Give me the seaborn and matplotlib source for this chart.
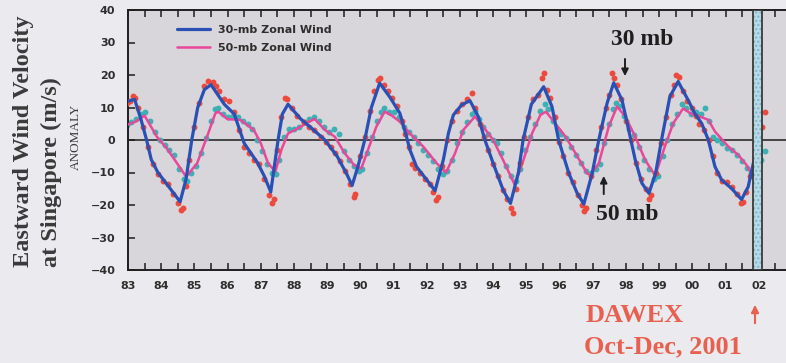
import matplotlib
matplotlib.use("Agg")
import matplotlib.pyplot as plt
import matplotlib.ticker as mticker
import pandas as pd
import seaborn as sns

# smoothed 30-mb zonal wind (year since 1900, m/s)
blue_t = [82.95, 83.2, 83.4, 83.56, 83.7, 83.9, 84.2, 84.57, 84.75, 84.92, 85.1, 85.3, 85.5,
          85.9, 86.2, 86.5, 86.9, 87.1, 87.3, 87.52, 87.65, 87.82, 88.2, 88.6, 88.93, 89.3,
          89.58, 89.75, 89.93, 90.13, 90.33, 90.58, 90.9, 91.19, 91.39, 91.49, 91.69, 92.0,
          92.25, 92.5, 92.65, 92.8, 93.05, 93.3, 93.55, 93.75, 94.0, 94.3, 94.52, 94.76, 94.9,
          95.15, 95.52, 95.77, 95.97, 96.28, 96.53, 96.73, 96.98, 97.18, 97.43, 97.63, 97.88,
          98.08, 98.28, 98.48, 98.69, 98.89, 99.07, 99.32, 99.57, 99.87, 100.07, 100.28,
          100.48, 100.68, 100.88, 101.18, 101.48, 101.68, 101.88, 102.06]
blue_v = [11.8, 12.5, 6, 0, -6, -10, -14, -19, -12, 0, 10, 15.5, 17,
          11, 8, -1, -7, -11, -16, 0, 8, 11, 6.5, 3, 0, -5,
          -10.3, -14, -8, 0, 10, 17.5, 13, 8.2, 1, -3, -8.2, -12.3,
          -15.6, -6, 2, 7.7, 10.8, 12.1, 7.2, 0, -7.2, -15.4, -19.5, -10, 0,
          11, 16.4, 10.3, 0, -10.3, -16.4, -19.7, -10.3, 0, 11.3, 17.6, 12.3,
          3.1, -6.2, -13.3, -16.4, -10.3, 0, 13.3, 18, 12.3, 8.2, 5.1,
          0, -8.2, -12.3, -14.9, -18.3, -14.4, -5.1, 2]

# smoothed 50-mb zonal wind
pink_t = [82.95, 83.2, 83.5, 83.87, 84.17, 84.48, 84.75, 85.08, 85.38, 85.63, 85.72, 86.0,
          86.38, 86.79, 87.0, 87.22, 87.44, 87.62, 87.82, 88.12, 88.37, 88.62, 88.93, 89.23,
          89.53, 89.83, 90.03, 90.23, 90.48, 90.73, 90.95, 91.19, 91.49, 91.89, 92.3, 92.58,
          92.85, 93.1, 93.45, 93.7, 94.0, 94.3, 94.65, 94.9, 95.17, 95.42, 95.59, 95.87,
          96.18, 96.48, 96.83, 96.93, 97.18, 97.48, 97.73, 97.98, 98.28, 98.58, 98.88, 99.17,
          99.42, 99.72, 100.02, 100.28, 100.48, 100.68, 101.08, 101.38, 101.63, 101.83, 101.93]
pink_v = [4.6, 5.5, 7.5, 1, -2.6, -7.2, -11.3, -7.2, 1, 8.2, 8.7, 6.4,
          6.2, 3.1, -1, -7.2, -9.7, -3, 2, 3.6, 5.1, 6.5, 3.1, 1,
          -4.1, -8, -8.7, -3, 4.1, 8.7, 7.5, 5.6, 2, -2, -7.2, -10,
          -4.1, 3.1, 7.2, 4.1, 0, -6.2, -13.8, -6.5, 2, 7.7, 8.7, 5.1,
          1, -4.1, -10.3, -10.8, -7.2, 4.1, 10.3, 7.2, 1, -6.2, -11, -2,
          5.1, 9.7, 7.7, 7, 6.2, 2.6, -2, -4.6, -7.7, -11.3, -9.5]

# monthly 30-mb observations (red dots)
red_t = [82.97, 83.05, 83.15, 83.22, 83.3, 83.45, 83.6, 83.75, 83.9, 84.05, 84.2, 84.35, 84.5,
         84.6, 84.65, 84.75, 84.85, 85.0, 85.15, 85.3, 85.42, 85.55, 85.65, 85.75, 85.9, 86.05,
         86.2, 86.35, 86.5, 86.65, 86.8, 86.95, 87.1, 87.25, 87.35, 87.4, 87.5, 87.6, 87.72,
         87.8, 87.95, 88.1, 88.3, 88.45, 88.6, 88.8, 88.95, 89.1, 89.25, 89.4, 89.55, 89.7,
         89.8, 89.85, 90.0, 90.15, 90.3, 90.42, 90.52, 90.6, 90.7, 90.82, 90.95, 91.1, 91.25,
         91.35, 91.45, 91.55, 91.65, 91.8, 91.95, 92.1, 92.2, 92.28, 92.33, 92.45, 92.6, 92.75,
         92.9, 93.05, 93.2, 93.35, 93.45, 93.6, 93.72, 93.85, 94.0, 94.15, 94.3, 94.42, 94.55,
         94.6, 94.68, 94.8, 94.92, 95.05, 95.2, 95.35, 95.48, 95.53, 95.62, 95.72, 95.85, 95.98,
         96.1, 96.25, 96.4, 96.55, 96.68, 96.74, 96.8, 96.95, 97.1, 97.25, 97.4, 97.5, 97.58,
         97.65, 97.72, 97.85, 98.0, 98.15, 98.3, 98.45, 98.6, 98.7, 98.75, 98.9, 99.05, 99.2,
         99.35, 99.45, 99.52, 99.6, 99.72, 99.85, 100.0, 100.1, 100.2, 100.35, 100.5, 100.62,
         100.75, 100.9, 101.05, 101.2, 101.35, 101.45, 101.52, 101.62, 101.75, 101.88, 101.98,
         102.1, 102.18]
red_v = [11.5, 12, 13.5, 13, 10, 4, -2, -7.5, -10.5, -12.5, -13.5, -16.5, -19.5,
         -21.5, -21, -14, -6, 4, 11.5, 16.5, 18.3, 18, 16.5, 15, 12.5, 12,
         8.5, 3, -2, -4, -6, -7.5, -12, -17, -19.5, -18, -3, 7, 13,
         12.5, 10, 7.5, 5.5, 4, 3, 1, -0.5, -2, -4, -6.5, -9.5, -13.5,
         -17.5, -16.5, -5, 1, 9, 15, 18.5, 19, 17, 15, 13, 10.5, 6,
         2, -2, -7.5, -8.5, -10, -12, -13.5, -16, -18.5, -17.5, -8, 0, 6,
         9, 11, 12.5, 14.5, 10, 5, 1, -3, -7.5, -11, -15.5, -18, -21,
         -22.5, -15, -7, 1, 7, 12.5, 14, 19, 20.5, 15.5, 13, 7, -0.5,
         -5, -10, -13, -17, -20, -21.8, -21, -11, -3, 4, 10, 14, 20.5,
         19, 17, 12.5, 6, 0, -7, -12, -15, -18, -17, -10, -1, 7,
         14, 17, 20, 19.5, 15, 12, 10, 7.5, 5, 3, 0, -5,
         -10, -12.5, -13, -14.5, -16.5, -19.5, -19, -16, -11, -5, 0,
         4, 8.5]

# monthly 50-mb observations (teal dots)
teal_t = [82.97, 83.1, 83.25, 83.4, 83.5, 83.65, 83.8, 83.95, 84.1, 84.25, 84.4, 84.55, 84.68,
          84.78, 84.9, 85.05, 85.2, 85.35, 85.5, 85.62, 85.72, 85.85, 86.0, 86.15, 86.3, 86.45,
          86.6, 86.75, 86.9, 87.05, 87.2, 87.35, 87.45, 87.55, 87.7, 87.85, 88.0, 88.15, 88.3,
          88.45, 88.6, 88.75, 88.9, 89.05, 89.2, 89.35, 89.5, 89.65, 89.8, 89.95, 90.05, 90.2,
          90.35, 90.5, 90.62, 90.72, 90.85, 91.0, 91.15, 91.3, 91.45, 91.6, 91.75, 91.9, 92.05,
          92.2, 92.35, 92.5, 92.62, 92.75, 92.9, 93.05, 93.2, 93.35, 93.45, 93.58, 93.7, 93.85,
          94.0, 94.1, 94.25, 94.4, 94.55, 94.7, 94.82, 94.95, 95.1, 95.25, 95.4, 95.55, 95.65,
          95.8, 95.95, 96.05, 96.2, 96.35, 96.5, 96.65, 96.8, 96.95, 97.1, 97.22, 97.35, 97.5,
          97.62, 97.7, 97.8, 97.95, 98.1, 98.25, 98.4, 98.55, 98.7, 98.85, 98.95, 99.1, 99.25,
          99.4, 99.55, 99.7, 99.82, 99.95, 100.1, 100.25, 100.38, 100.5, 100.62, 100.75, 100.9,
          101.05, 101.2, 101.35, 101.5, 101.65, 101.78, 101.88, 101.98, 102.08, 102.18]
teal_v = [4.5, 5.5, 6.5, 8, 8.5, 6, 2.5, 0, -1.5, -3, -4.5, -9, -12,
          -12.5, -10, -8, -4, 0.5, 6, 9.5, 9.8, 8, 7, 7.5, 7, 6,
          5, 3.5, 0, -3.5, -7.5, -10, -10.5, -6, 1, 3.5, 3.5, 4, 5.5,
          6.5, 7, 6, 4, 2.5, 3.5, 2, -3.5, -6, -8, -9.5, -9, -4,
          1, 6, 8.5, 10, 8.5, 8.5, 7, 4, 2.5, 1, -1, -3, -4.5,
          -6.5, -9, -10.5, -9.5, -6, -1, 2.5, 5.5, 8, 9, 6.5, 4, 2,
          0, -1, -4, -8, -11, -12.5, -9, -3, 1, 5, 9, 11, 9.5,
          6, 3, 2, 0.5, -2, -4.5, -7, -9.5, -10, -9, -7.5, -1, 5,
          9.5, 11.5, 10.5, 7.5, 3.5, 1.5, -2, -6, -9, -12, -11, -5, 0,
          5, 8, 11, 10, 8, 8.5, 8, 9.7, 6, 1, 0, -1,
          -2.5, -3, -4.5, -6.5, -8.5, -10, -11.5, -8, -6, -3.5]

year_ticks = list(range(83, 103))
year_labels = [f"{y % 100:02d}" for y in year_ticks]

W, H = 786, 363
sns.set_style("white")
plt.rcParams["font.family"] = ["DejaVu Sans"]

fig = plt.figure(figsize=(W / 100, H / 100), dpi=100)
fig.patch.set_facecolor("#ebeaee")
ax = fig.add_axes([128 / W, (H - 270) / H, (W - 128) / W, 260 / H])
ax.set_facecolor("#d8d6da")

blue = pd.DataFrame({"t": blue_t, "v": blue_v})
pink = pd.DataFrame({"t": pink_t, "v": pink_v})
red = pd.DataFrame({"t": red_t, "v": red_v})
teal = pd.DataFrame({"t": teal_t, "v": teal_v})

ax.axhline(0, color="#1e1e1e", lw=1.1, zorder=1)

sns.scatterplot(data=teal, x="t", y="v", ax=ax, color="#3cb0b4", s=18, marker="o",
                linewidth=0, zorder=2)
sns.lineplot(data=pink, x="t", y="v", ax=ax, color="#e8479a", lw=1.8, zorder=3,
             label="50-mb Zonal Wind", sort=False)
sns.scatterplot(data=red, x="t", y="v", ax=ax, color="#ec4a3c", s=18, marker="o",
                linewidth=0, zorder=4)
sns.lineplot(data=blue, x="t", y="v", ax=ax, color="#2a4fb5", lw=2.3, zorder=5,
             label="30-mb Zonal Wind", sort=False)

# DAWEX period box
ax.axvspan(101.83, 102.1, facecolor="#b8dae6", edgecolor="#7fb4c8", hatch="....",
           lw=0, zorder=6)
ax.axvspan(101.83, 102.1, facecolor="none", edgecolor="#3a3a3a", lw=1.3, zorder=7)

ax.set_xlim(83, 83 + (W - 128) / 33.2)
ax.set_ylim(-40, 40)
ax.set_xticks(year_ticks)
ax.set_xticklabels(year_labels)
ax.xaxis.set_minor_locator(mticker.MultipleLocator(0.5))
ax.set_yticks(range(-40, 41, 10))
ax.set_xlabel("")
ax.set_ylabel("")

for s in ["left", "bottom", "top"]:
    ax.spines[s].set_visible(True)
    ax.spines[s].set_color("#1e1e1e")
    ax.spines[s].set_linewidth(1.4)
ax.spines["right"].set_visible(False)

ax.tick_params(axis="x", which="both", direction="in", top=True, bottom=True,
               length=5, width=1.1, color="#1e1e1e", pad=8)
ax.tick_params(axis="y", which="major", direction="in", left=True, length=5, width=1.1,
               color="#1e1e1e", pad=9)
for lab in ax.get_xticklabels() + ax.get_yticklabels():
    lab.set_fontweight("bold")
    lab.set_fontsize(8)
    lab.set_color("#2e2e2e")

handles, labels = ax.get_legend_handles_labels()
leg = ax.legend(handles[::-1], labels[::-1], loc="upper left",
                bbox_to_anchor=(177 / W, 1 - 25 / H), bbox_transform=fig.transFigure,
                frameon=False, handlelength=3.0, handletextpad=0.7, labelspacing=0.7,
                borderpad=0, borderaxespad=0, prop={"weight": "bold", "size": 8})
for t in leg.get_texts():
    t.set_color("#2e2e2e")

serif = ["Liberation Serif", "DejaVu Serif"]
ax.annotate("30 mb", xy=(97.97, 18.5), xytext=(98.5, 30.8), ha="center", va="center",
            fontsize=17, fontweight="bold", family=serif, color="#1e1e1e", zorder=8)
ax.annotate("", xy=(97.97, 18.8), xytext=(97.97, 25.8),
            arrowprops=dict(arrowstyle="-|>", color="#1e1e1e", lw=1.4,
                            mutation_scale=10), zorder=8)
ax.annotate("50 mb", xy=(98.05, -22.8), ha="center", va="center",
            fontsize=17, fontweight="bold", family=serif, color="#1e1e1e", zorder=8)
ax.annotate("", xy=(97.33, -10.2), xytext=(97.33, -17.5),
            arrowprops=dict(arrowstyle="-|>", color="#1e1e1e", lw=1.4,
                            mutation_scale=10), zorder=8)

fig.text(24 / W, 1 - 267 / H, "Eastward Wind Velocity", rotation=90, ha="center",
         va="bottom", fontsize=17.5, fontweight="bold", family=serif, color="#3a3a3a")
fig.text(51 / W, 1 - 267 / H, "at Singapore (m/s)", rotation=90, ha="center",
         va="bottom", fontsize=17.5, fontweight="bold", family=serif, color="#3a3a3a")
fig.text(76 / W, 1 - 170 / H, "ANOMALY", rotation=90, ha="center", va="bottom",
         fontsize=9.5, family=serif, color="#3a3a3a")

red_txt = "#e8604f"
fig.text(635 / W, 1 - 315 / H, "DAWEX", ha="center", va="center", fontsize=19,
         fontweight="bold", family=serif, color=red_txt)
fig.text(663 / W, 1 - 347 / H, "Oct-Dec, 2001", ha="center", va="center", fontsize=19,
         fontweight="bold", family=serif, color=red_txt)
fig.patches.append(matplotlib.patches.FancyArrowPatch(
    (755 / W, 1 - 326 / H), (755 / W, 1 - 302 / H), transform=fig.transFigure,
    arrowstyle="-|>", mutation_scale=11, color=red_txt, lw=1.5))

fig.savefig("out.png", dpi=100, facecolor=fig.get_facecolor())
